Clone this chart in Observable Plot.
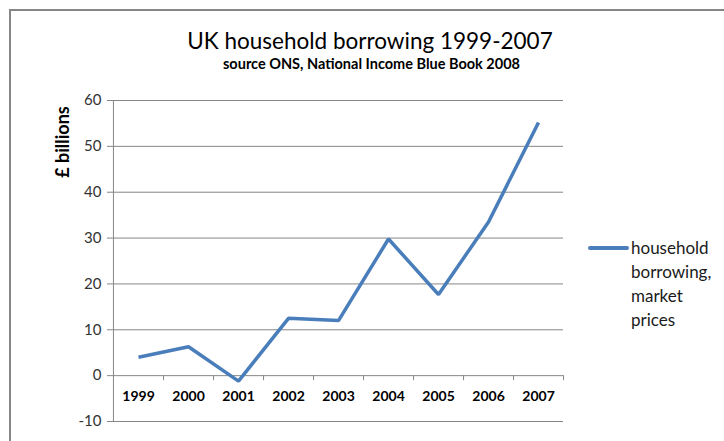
<!DOCTYPE html>
<html>
<head>
<meta charset="utf-8">
<script src="https://cdn.jsdelivr.net/npm/d3@7"></script>
<script src="https://cdn.jsdelivr.net/npm/@observablehq/plot@0.6"></script>
<style>
  body { margin: 0; background: #fff; }
  #wrap { position: relative; width: 724px; height: 441px; overflow: hidden; font-family: Lato, "Open Sans", sans-serif; }
  #border { position: absolute; left: 9px; top: 9px; width: 800px; height: 500px; border-left: 2px solid #868686; border-top: 2px solid #868686; }
  .t { position: absolute; white-space: nowrap; color: #000; }
  #title { left: 0; width: 740px; text-align: center; top: 27px; font-size: 22.5px; }
  #subtitle { left: 0; width: 743px; text-align: center; top: 55px; font-size: 14.5px; font-weight: bold; }
  #ylabel { left: 62px; top: 142px; transform: translate(-50%, -50%) rotate(-90deg); font-size: 18px; font-weight: bold; }
  #legline { position: absolute; left: 588px; top: 246px; width: 41px; height: 4px; background: #4a7ebb; border-radius: 2px; }
  #legtext { left: 631px; top: 236px; font-size: 17px; line-height: 24px; color: #1a1a1a; white-space: normal; width: 92px; }
  svg { position: absolute; left: 0; top: 0; }
</style>
</head>
<body>
<div id="wrap">
  <div id="border"></div>
  <div id="chart"></div>
  <div class="t" id="title">UK household borrowing 1999-2007</div>
  <div class="t" id="subtitle">source ONS, National Income Blue Book 2008</div>
  <div class="t" id="ylabel">£ billions</div>
  <div id="legline"></div>
  <div class="t" id="legtext">household<br>borrowing,<br>market<br>prices</div>
</div>
<script>
const years = ["1999","2000","2001","2002","2003","2004","2005","2006","2007"];
const borrowing = [4.0, 6.3, -1.2, 12.5, 12.0, 29.8, 17.7, 33.5, 55.2];
const yTicks = [-10, 0, 10, 20, 30, 40, 50, 60];
const seriesName = "household borrowing, market prices";

const data = years.map((y, i) => ({year: y, value: borrowing[i]}));

const W = 724, H = 441;
const mL = 112, mR = 161, mT = 100, mB = 20;
const step = (W - mL - mR) / years.length;

const chart = Plot.plot({
  width: W,
  height: H,
  marginLeft: mL,
  marginRight: mR,
  marginTop: mT,
  marginBottom: mB,
  style: {background: "transparent", fontFamily: "Lato, 'Open Sans', sans-serif"},
  x: {type: "point", domain: years, padding: 0.5, axis: null},
  y: {domain: [-10, 60], ticks: yTicks},
  marks: [
    Plot.ruleY(yTicks, {stroke: "#868686", strokeWidth: 1}),
    Plot.axisY({ticks: yTicks, tickSize: 5, tickPadding: 6, fontSize: 15, color: "#333", stroke: "#868686", label: null, tickFormat: d => String(d)}),
    Plot.ruleX([years[0]], {y1: -10, y2: 60, dx: -step / 2, stroke: "#868686"}),
    Plot.ruleX(years, {y1: 0, y2: -1.1, dx: step / 2, stroke: "#868686"}),
    Plot.text(years, {x: d => d, y: 0, dy: 21, fontSize: 14, fontWeight: "bold", fill: "#000"}),
    Plot.line(data, {x: "year", y: "value", stroke: "#4a7ebb", strokeWidth: 3.5, strokeLinejoin: "miter", strokeLinecap: "butt"})
  ]
});
document.getElementById("chart").appendChild(chart);
</script>
</body>
</html>
